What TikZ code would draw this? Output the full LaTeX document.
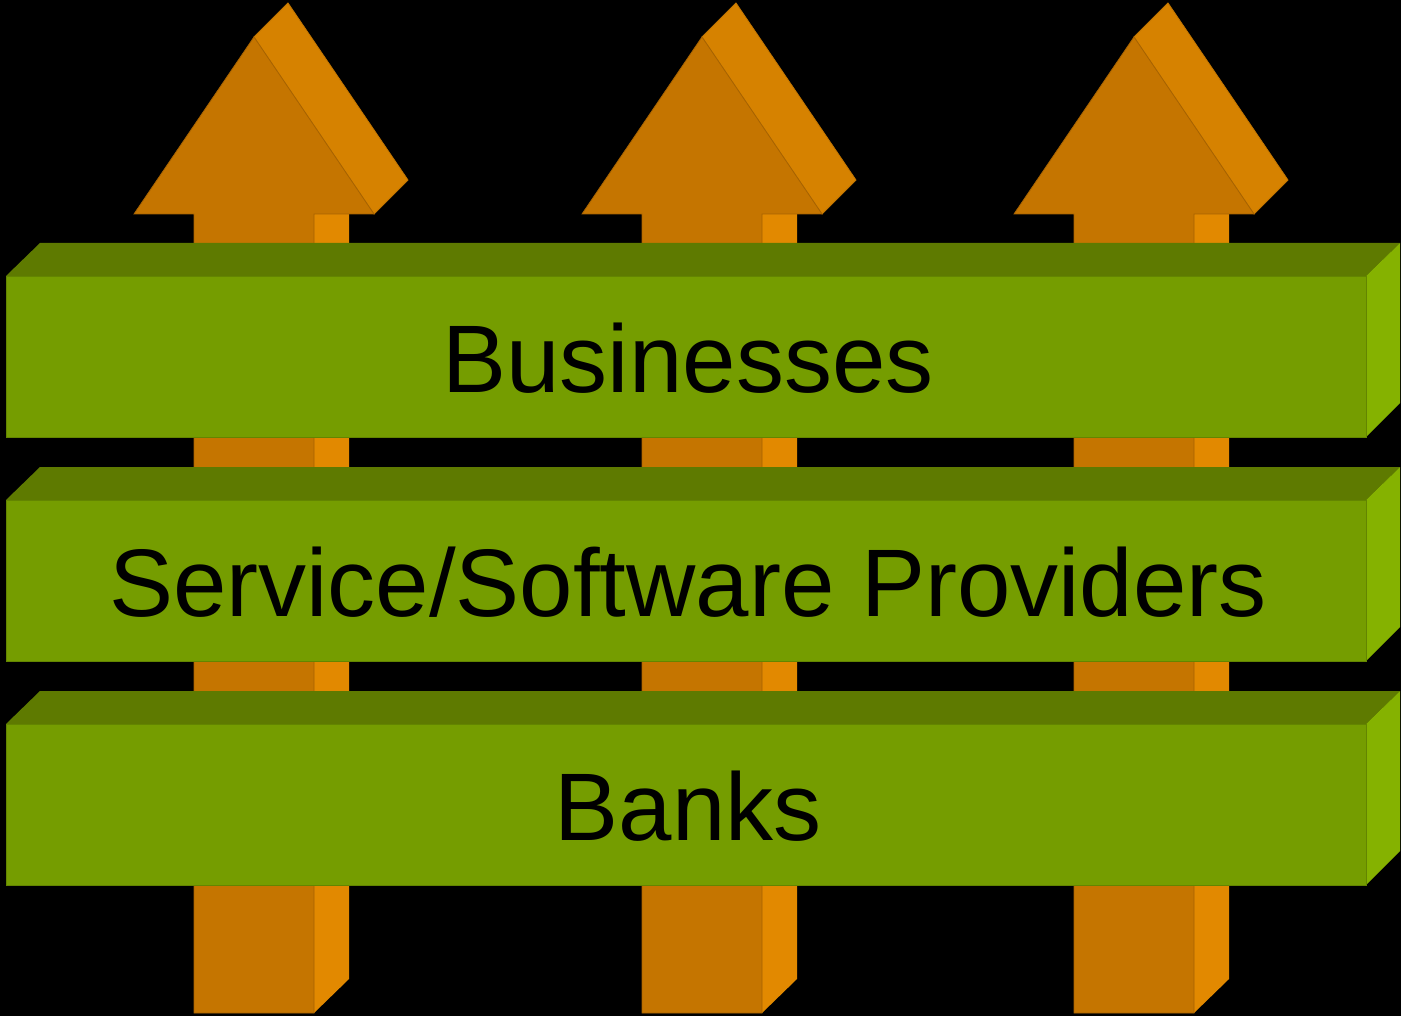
\documentclass[tikz,border=0pt]{standalone}
\usepackage{fontspec}
\setmainfont{Liberation Sans}
\definecolor{orfront}{HTML}{C57500}
\definecolor{orhead}{HTML}{D68200}
\definecolor{orshaft}{HTML}{E28900}
\definecolor{gnfront}{HTML}{759D00}
\definecolor{gntop}{HTML}{5E7A00}
\definecolor{gnside}{HTML}{85B200}
\tikzset{
  arrowfront/.style={fill=orfront, draw=orfront!85!black, line width=0.8pt, line join=miter},
  arrowhead/.style={fill=orhead, draw=orhead!90!black, line width=0.8pt},
  arrowshaft/.style={fill=orshaft},
  barfront/.style={fill=gnfront, draw=gnfront!85!black, line width=0.8pt},
  bartop/.style={fill=gntop},
  barside/.style={fill=gnside},
  lbl/.style={anchor=base, text=black, font=\fontsize{96}{100}\selectfont, inner sep=0pt}
}
\begin{document}
\begin{tikzpicture}[x=1pt,y=-1pt]
\fill[black] (0,0) rectangle (1401,1016);
\useasboundingbox (0,0) rectangle (1401,1016);
% arrows
\foreach \dx in {0,448,880}{
  \begin{scope}[xshift=\dx pt]
    \fill[arrowshaft] (314,214) -- (349,214) -- (349,979) -- (314,1013) -- cycle;
    \filldraw[arrowhead] (254,37) -- (288,3) -- (408,180) -- (374,214) -- cycle;
    \filldraw[arrowfront] (194,1013) -- (194,214) -- (134,214) -- (254,37) -- (374,214) -- (314,214) -- (314,1013) -- cycle;
  \end{scope}
}
% bars
\foreach \dy in {0,224,448}{
  \begin{scope}[yshift=-\dy pt]
    \fill[bartop] (6,276) -- (40,243) -- (1400,243) -- (1366,276) -- cycle;
    \fill[barside] (1366,276) -- (1400,243) -- (1400,403) -- (1366,437) -- cycle;
    \filldraw[barfront] (6,276) rectangle (1366,437);
  \end{scope}
}
\node[lbl] (businesses) at (688,392) {Businesses};
\node[lbl] (providers) at (688,616) {Service/Software Providers};
\node[lbl] (banks) at (688,840) {Banks};
\end{tikzpicture}
\end{document}
